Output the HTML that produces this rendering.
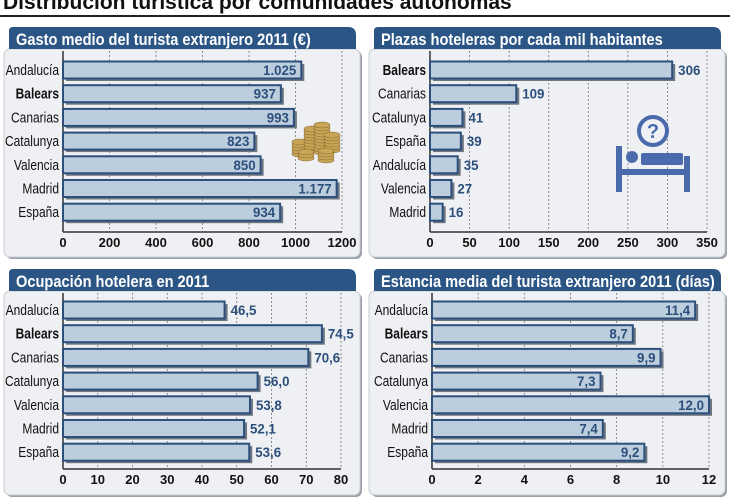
<!DOCTYPE html>
<html><head><meta charset="utf-8"><style>
body{margin:0;background:#fff;width:730px;height:500px;overflow:hidden}
svg{display:block}
text{font-family:"Liberation Sans",sans-serif}
</style></head><body>
<svg id="s" width="730" height="500" xmlns="http://www.w3.org/2000/svg">
<text x="3" y="9" font-weight="bold" font-size="21" fill="#111">Distribución turística por comunidades autónomas</text>
<rect x="0" y="15" width="730" height="2" fill="#222"/>
</svg>
<script>
const s=document.getElementById('s');let h='';
function T(x,y,sx,attrs,txt){return `<g transform="translate(${x},${y}) scale(${sx},1)"><text x="0" y="0" ${attrs}>${txt}</text></g>`;}
function panel(px,py,pw,ph,title,x0,x1,max,ticks,rows,cy0,axisY,inside){
 h+=`<rect x="${px+2}" y="${py+24}" width="${pw}" height="${ph-22}" rx="6" fill="#9aa0a8"/>`;
 h+=`<rect x="${px}" y="${py+22}" width="${pw}" height="${ph-22}" rx="6" fill="#eef0f3" stroke="#c8ccd2"/>`;
 h+=`<path d="M${px+5} ${py+22} V${py+4} Q${px+5} ${py} ${px+9} ${py} H${px+pw-12} Q${px+pw-4} ${py} ${px+pw-4} ${py+8} V${py+22} Z" fill="#2b5585"/>`;
 h+=T(px+12,py+18,0.86,`font-weight="bold" font-size="17" fill="#fff"`,title);
 const sc=(x1-x0)/max;
 ticks.forEach(t=>{const x=x0+t*sc;
  if(t>0)h+=`<line x1="${x}" y1="${py+24}" x2="${x}" y2="${axisY}" stroke="#777" stroke-dasharray="2,2" stroke-width="0.8"/>`;
  h+=`<text x="${x}" y="${axisY+15}" text-anchor="middle" font-weight="bold" font-size="13" fill="#111">${t}</text>`;});
 h+=`<line x1="${x0}" y1="${py+24}" x2="${x0}" y2="${axisY}" stroke="#333" stroke-width="1.5"/>`;
 h+=`<line x1="${x0}" y1="${axisY}" x2="${x1}" y2="${axisY}" stroke="#333" stroke-width="1.5"/>`;
 rows.forEach((r,i)=>{const cy=cy0+i*23.7;const w=r[1]*sc;
  h+=`<rect x="${x0+3}" y="${cy-6}" width="${w}" height="17" fill="#6f7680"/>`;
  h+=`<rect x="${x0}" y="${cy-8.5}" width="${w}" height="17" fill="#bccddd" stroke="#2c4f7c" stroke-width="2"/>`;
  h+=T(x0-4,cy+5,0.8,`text-anchor="end" font-size="15" ${r[0]=='Balears'?'font-weight="bold"':''} fill="#111"`,r[0]);
  if(inside)h+=T(x0+w-5,cy+5,0.95,`text-anchor="end" font-weight="bold" font-size="14" fill="#2c4f7c"`,r[2]);
  else h+=T(x0+w+6,cy+5,0.95,`font-weight="bold" font-size="14" fill="#2c4f7c"`,r[2]);});
}
panel(4,27,356,230,'Gasto medio del turista extranjero 2011 (€)',63,342,1200,[0,200,400,600,800,1000,1200],
[['Andalucía',1025,'1.025'],['Balears',937,'937'],['Canarias',993,'993'],['Catalunya',823,'823'],['Valencia',850,'850'],['Madrid',1177,'1.177'],['España',934,'934']],70,232,true);
panel(369,27,356,230,'Plazas hoteleras por cada mil habitantes',430,707,350,[0,50,100,150,200,250,300,350],
[['Balears',306,'306'],['Canarias',109,'109'],['Catalunya',41,'41'],['España',39,'39'],['Andalucía',35,'35'],['Valencia',27,'27'],['Madrid',16,'16']],70,232,false);
panel(4,269,356,226,'Ocupación hotelera en 2011',63,341,80,[0,10,20,30,40,50,60,70,80],
[['Andalucía',46.5,'46,5'],['Balears',74.5,'74,5'],['Canarias',70.6,'70,6'],['Catalunya',56,'56,0'],['Valencia',53.8,'53,8'],['Madrid',52.1,'52,1'],['España',53.6,'53,6']],310,469,false);
panel(369,269,356,226,'Estancia media del turista extranjero 2011 (días)',432,709,12,[0,2,4,6,8,10,12],
[['Andalucía',11.4,'11,4'],['Balears',8.7,'8,7'],['Canarias',9.9,'9,9'],['Catalunya',7.3,'7,3'],['Valencia',12,'12,0'],['Madrid',7.4,'7,4'],['España',9.2,'9,2']],310,469,true);
h+=`<g fill="#c9a558" stroke="#8a6a2a" stroke-width="0.6">`;
[[300,140,14],[312,128,22],[322,124,28],[332,132,18],[306,150,8],[326,150,10]].forEach(c=>{for(let k=0;k<c[2];k+=3)h+=`<ellipse cx="${c[0]}" cy="${c[1]+c[2]-k}" rx="8" ry="3"/>`;});
h+=`</g>`;
h+=`<g fill="#4a6aac"><circle cx="653" cy="131" r="14" fill="none" stroke="#4a6aac" stroke-width="4"/><text x="653" y="138" text-anchor="middle" font-weight="bold" font-size="20" fill="#4a6aac">?</text>
<rect x="616" y="146" width="6" height="46"/><rect x="684" y="156" width="6" height="36"/><rect x="616" y="169" width="74" height="6"/><circle cx="632" cy="157" r="6"/><rect x="641" y="153" width="42" height="12" rx="2"/></g>`;
s.insertAdjacentHTML('beforeend',h);
</script>
</body></html>
